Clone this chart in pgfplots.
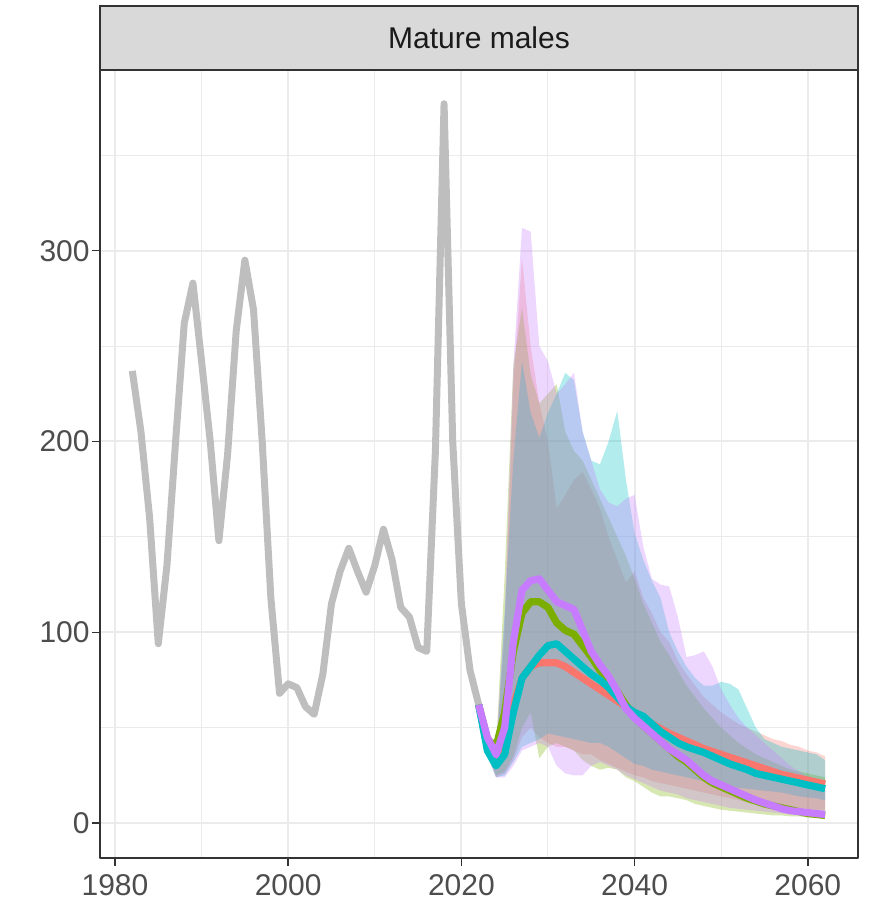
\documentclass[border=0pt]{standalone}
\usepackage{fontspec}
\setmainfont{Liberation Sans}
\usepackage{pgfplots}
\usepackage{pgfplotstable}
\pgfplotsset{compat=1.18}
\definecolor{cR}{HTML}{F8766D}
\definecolor{cG}{HTML}{7CAE00}
\definecolor{cC}{HTML}{00BFC4}
\definecolor{cP}{HTML}{C77CFF}
\definecolor{histgrey}{HTML}{BEBEBE}
\definecolor{gridgrey}{HTML}{EBEBEB}
\definecolor{bordergrey}{HTML}{333333}
\definecolor{labelgrey}{HTML}{4D4D4D}
\definecolor{stripfill}{HTML}{D9D9D9}
\definecolor{striptext}{HTML}{1A1A1A}

\pgfplotstableread{
year val
1982 237
1983 205
1984 160
1985 94
1986 135
1987 200
1988 262
1989 283
1990 242
1991 200
1992 148
1993 193
1994 258
1995 295
1996 269
1997 200
1998 118
1999 68
2000 73
2001 71
2002 61
2003 57
2004 78
2005 115
2006 132
2007 144
2008 132
2009 121
2010 135
2011 154
2012 138
2013 113
2014 108
2015 92
2016 90
2017 195
2018 377
2019 200
2020 115
2021 80
2022 62
}\hist

\pgfplotstableread{
year rm gm cm pm
2022 62 62 62 62
2023 40 44 38 45
2024 32 40 30 36
2025 40 58 36 50
2026 62 90 58 95
2027 76 110 76 122
2028 82 116 82 127
2029 84 116 88 128
2030 84 113 93 122
2031 84 105 94 116
2032 82 101 90 114
2033 79 99 86 112
2034 76 93 82 101
2035 73 87 78 90
2036 70 80 75 83
2037 67 75 71 77
2038 64 69 66 69
2039 61 62 61 60
2040 58 56 58 55
2041 55 51 56 51
2042 52 47 52 47
2043 49.5 43 48 43
2044 47 39 45 39
2045 45 35 42 36
2046 43 32 40 33
2047 41 28 38.5 29
2048 39 24 37 25
2049 37.5 21 35 22
2050 36 19 33 20
2051 34.5 17 31 18
2052 33 15 29.5 16
2053 31.5 13 28 14
2054 30 11.5 26 12
2055 28.5 10 25 10.5
2056 27 9 24 9
2057 25.5 8 23 7.5
2058 24.5 7 22 6.5
2059 23.5 6 21 6
2060 22.5 5 20 5.5
2061 21.5 4.5 19 5
2062 20.5 4 18 4.5
}\proj

\begin{document}
\begin{tikzpicture}
\begin{axis}[
  name=ax, at={(0,0)}, anchor=south west,
  scale only axis, width=379pt, height=394pt,
  xmin=1978.27, xmax=2065.8, ymin=-18.3, ymax=394.7,
  xtick={1980,2000,2020,2040,2060},
  minor xtick={1990,2010,2030,2050},
  ytick={0,100,200,300},
  minor ytick={50,150,250,350},
  grid=both,
  major grid style={color=gridgrey, line width=1pt},
  minor grid style={color=gridgrey, line width=0.5pt},
  axis line style={color=bordergrey, line width=0.75pt},
  tick style={color=bordergrey, line width=0.75pt},
  major tick length=4pt, minor tick length=0pt,
  tick align=outside,
  xtick pos=left, ytick pos=left,
  ticklabel style={font=\fontsize{15}{18}\selectfont, color=labelgrey, inner sep=1pt},
  xticklabel style={yshift=-3pt},
  /pgf/number format/assume math mode=true,
  /pgf/number format/1000 sep={},
  line join=round,
]
% ribbons (upper bound forward, lower bound backward)
\addplot[fill=cR, fill opacity=0.3, draw=none] coordinates {
(2022,62)(2023,45)(2024,36)(2025,100)(2026,230)(2027,296)(2028,250)(2029,220)(2030,200)(2031,165)
(2032,172)(2033,180)(2034,184)(2035,175)(2036,165)(2037,150)(2038,138)(2039,126)(2040,132)(2041,118)
(2042,110)(2043,100)(2044,95)(2045,85)(2046,78)(2047,72)(2048,66)(2049,62)(2050,58)(2051,55)
(2052,52)(2053,50)(2054,48)(2055,46)(2056,44)(2057,43)(2058,41)(2059,40)(2060,38)(2061,37)(2062,35)
(2062,7)(2061,7)(2060,7.5)(2059,8)(2058,8.5)(2057,9)(2056,9.5)(2055,10)(2054,10.5)(2053,11)
(2052,12)(2051,13)(2050,14)(2049,15)(2048,16)(2047,17)(2046,18)(2045,19)(2044,20)(2043,21)
(2042,22)(2041,24)(2040,25)(2039,27)(2038,29)(2037,31)(2036,33)(2035,36)(2034,36)(2033,38)
(2032,40)(2031,40)(2030,42)(2029,45)(2028,50)(2027,45)(2026,33)(2025,26)(2024,24)(2023,36)
};
\addplot[fill=cG, fill opacity=0.3, draw=none] coordinates {
(2022,62)(2023,46)(2024,38)(2025,130)(2026,240)(2027,270)(2028,235)(2029,220)(2030,225)(2031,230)
(2032,205)(2033,195)(2034,190)(2035,180)(2036,170)(2037,160)(2038,150)(2039,140)(2040,128)(2041,115)
(2042,105)(2043,95)(2044,88)(2045,80)(2046,72)(2047,66)(2048,60)(2049,55)(2050,50)(2051,46)
(2052,42)(2053,39)(2054,36)(2055,34)(2056,32)(2057,30)(2058,28)(2059,27)(2060,26)(2061,25)(2062,24)
(2062,3)(2061,3)(2060,3)(2059,3.5)(2058,3.5)(2057,4)(2056,4)(2055,4.5)(2054,5)(2053,5.5)
(2052,6)(2051,6.5)(2050,7)(2049,8)(2048,9)(2047,10)(2046,12)(2045,13)(2044,14)(2043,14)
(2042,16)(2041,19)(2040,22)(2039,24)(2038,28)(2037,29)(2036,28)(2035,30)(2034,33)(2033,38)
(2032,40)(2031,42)(2030,40)(2029,34)(2028,58)(2027,50)(2026,35)(2025,27)(2024,25)(2023,37)
};
\addplot[fill=cC, fill opacity=0.3, draw=none] coordinates {
(2022,62)(2023,44)(2024,34)(2025,110)(2026,190)(2027,242)(2028,215)(2029,202)(2030,215)(2031,225)
(2032,236)(2033,232)(2034,205)(2035,190)(2036,188)(2037,200)(2038,216)(2039,180)(2040,152)(2041,138)
(2042,127)(2043,118)(2044,100)(2045,90)(2046,82)(2047,76)(2048,72)(2049,72)(2050,74)(2051,73)
(2052,70)(2053,60)(2054,50)(2055,44)(2056,42)(2057,40)(2058,39)(2059,38)(2060,37)(2061,36)(2062,33)
(2062,12)(2061,13)(2060,13.5)(2059,14)(2058,15)(2057,16)(2056,16.5)(2055,17)(2054,17.5)(2053,18)
(2052,18.5)(2051,19)(2050,20)(2049,21)(2048,22)(2047,23)(2046,24)(2045,25)(2044,26)(2043,27)
(2042,28)(2041,30)(2040,31)(2039,34)(2038,37)(2037,40)(2036,42)(2035,42)(2034,43)(2033,44)
(2032,45)(2031,46)(2030,47)(2029,44)(2028,42)(2027,40)(2026,32)(2025,25)(2024,24)(2023,35)
};
\addplot[fill=cP, fill opacity=0.3, draw=none] coordinates {
(2022,62)(2023,47)(2024,40)(2025,110)(2026,240)(2027,312)(2028,310)(2029,250)(2030,242)(2031,225)
(2032,230)(2033,236)(2034,205)(2035,190)(2036,175)(2037,168)(2038,166)(2039,170)(2040,172)(2041,145)
(2042,128)(2043,125)(2044,124)(2045,108)(2046,87)(2047,88)(2048,90)(2049,82)(2050,70)(2051,62)
(2052,55)(2053,50)(2054,46)(2055,42)(2056,38)(2057,34)(2058,30)(2059,27)(2060,24)(2061,22)(2062,20)
(2062,3)(2061,3.5)(2060,3.5)(2059,4)(2058,4.5)(2057,5)(2056,5.5)(2055,6)(2054,6.5)(2053,7)
(2052,7.5)(2051,8)(2050,9)(2049,10)(2048,11)(2047,12)(2046,13)(2045,15)(2044,16)(2043,17)
(2042,19)(2041,21)(2040,23)(2039,25)(2038,28)(2037,30)(2036,32)(2035,30)(2034,25)(2033,25)
(2032,26)(2031,30)(2030,40)(2029,42)(2028,40)(2027,38)(2026,30)(2025,24)(2024,24)(2023,36)
};
% historical
\addplot[color=histgrey, line width=3.5pt] table[x=year, y=val]{\hist};
% projections
\addplot[color=cR, line width=3.6pt] table[x=year, y=rm]{\proj};
\addplot[color=cG, line width=3.6pt] table[x=year, y=gm]{\proj};
\addplot[color=cC, line width=3.6pt] table[x=year, y=cm]{\proj};
\addplot[color=cP, line width=3.6pt] table[x=year, y=pm]{\proj};
\end{axis}
\draw[fill=stripfill, draw=bordergrey, line width=0.75pt] (ax.north west) rectangle ([yshift=32pt]ax.north east);
\node[font=\fontsize{15}{18}\selectfont, text=striptext] at ([yshift=16pt]ax.north) {Mature males};
\path (-50pt,-26pt) rectangle (385.5pt,429pt);
\end{tikzpicture}
\end{document}
